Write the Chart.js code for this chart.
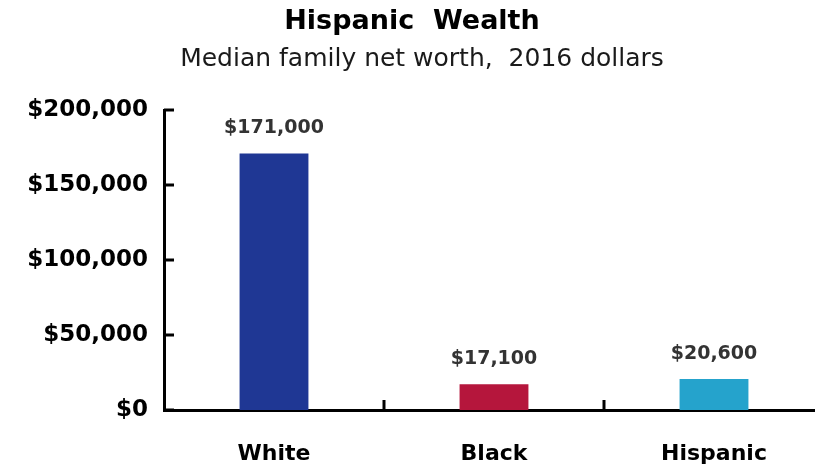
<!DOCTYPE html>
<html>
<head>
<meta charset="utf-8">
<script src="https://cdn.jsdelivr.net/npm/chart.js@4"></script>
<style>
  html, body { margin: 0; padding: 0; background: #fff; overflow: hidden; }
  canvas { display: block; }
</style>
</head>
<body>
<!-- canvas a bit wider than the window: the x axis runs off the right edge like the original -->
<canvas id="wealthChart" width="824" height="470"></canvas>
<script>
const categories = ['White', 'Black', 'Hispanic'];
const netWorth = [171000, 17100, 20600];
const barColors = ['#1f3794', '#b5163c', '#25a3cc'];
const yTicks = [0, 50000, 100000, 150000, 200000];

const FONT = '"DejaVu Sans", Verdana, sans-serif';
const fmt = v => '$' + v.toLocaleString('en-US');

// Title, bar labels and inside tick marks
const decorations = {
    id: 'decorations',
    afterDraw(chart) {
        const c = chart.ctx;
        const x = chart.scales.x, y = chart.scales.y;
        c.save();
        c.fillStyle = '#000';
        c.textAlign = 'center';
        c.textBaseline = 'middle';
        c.font = `bold 27px ${FONT}`;
        c.fillText('Hispanic  Wealth', 412, 22);
        c.font = `25px ${FONT}`;
        c.fillStyle = '#1a1a1a';
        c.fillText('Median family net worth,  2016 dollars', 422, 59);

        // value labels
        c.font = `bold 19px ${FONT}`;
        c.fillStyle = '#333';
        const meta = chart.getDatasetMeta(0);
        meta.data.forEach((bar, i) => {
            c.fillText(fmt(netWorth[i]), bar.x, bar.y - 25);
        });

        // ticks pointing inward
        c.strokeStyle = '#000';
        c.lineWidth = 3;
        yTicks.forEach(v => {
            const py = y.getPixelForValue(v);
            c.beginPath();
            c.moveTo(x.left, py);
            c.lineTo(x.left + 10, py);
            c.stroke();
        });
        for (let i = 1; i < categories.length; i++) {
            const px = (x.getPixelForValue(i - 1) + x.getPixelForValue(i)) / 2;
            c.beginPath();
            c.moveTo(px, y.bottom);
            c.lineTo(px, y.bottom - 10);
            c.stroke();
        }
        c.restore();
    }
};

new Chart(document.getElementById('wealthChart'), {
    type: 'bar',
    data: {
        labels: categories,
        datasets: [{
            data: netWorth,
            backgroundColor: barColors,
            borderWidth: 0,
            barPercentage: 0.313,
            categoryPercentage: 1
        }]
    },
    options: {
        responsive: false,
        animation: false,
        layout: { padding: { top: 110, right: 0, left: 0, bottom: 0 } },
        plugins: {
            legend: { display: false },
            tooltip: { enabled: false }
        },
        scales: {
            x: {
                grid: { display: false },
                border: { display: true, color: '#000', width: 3 },
                ticks: {
                    color: '#000',
                    padding: 23,
                    font: { family: FONT, size: 22, weight: 'bold' }
                },
                afterFit: s => { s.height = 60; }
            },
            y: {
                min: 0,
                max: 200000,
                afterBuildTicks: s => { s.ticks = yTicks.map(v => ({ value: v })); },
                grid: { display: false },
                border: { display: true, color: '#000', width: 3 },
                ticks: {
                    color: '#000',
                    padding: 8,
                    font: { family: FONT, size: 23, weight: 'bold' },
                    callback: v => fmt(v)
                },
                afterFit: s => { s.width = 164; }
            }
        }
    },
    plugins: [decorations]
});
</script>
</body>
</html>
